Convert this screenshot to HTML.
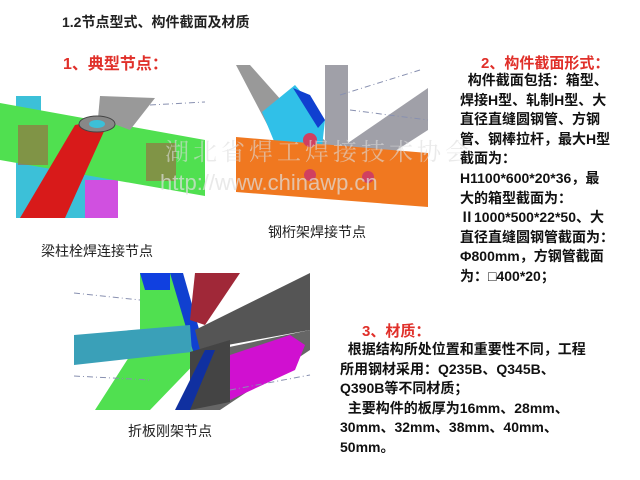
<!DOCTYPE html>
<html><head><meta charset="utf-8"><style>
body{margin:0;width:640px;height:480px;background:#fff;position:relative;overflow:hidden;font-family:"Liberation Sans","Noto Sans CJK SC",sans-serif}
.t{position:absolute;white-space:nowrap}
.b{font-size:14px;font-weight:bold;color:#111;line-height:19.6px}
.r{color:#e0302a;font-weight:bold;font-size:15px}
.cap{font-size:14px;color:#222}
</style></head><body>
<div class="t" style="left:62px;top:12px;font-size:14px;font-weight:bold;color:#222">1.2节点型式、构件截面及材质</div>
<div class="t r" style="left:63px;top:50px;font-size:16px">1、典型节点：</div>
<svg style="position:absolute;left:0;top:0" width="640" height="480">
<rect x="16" y="96" width="25" height="62" fill="#3cc0d8"/>
<rect x="16" y="155" width="100" height="63" fill="#3cc0d8"/>
<rect x="85" y="180" width="33" height="38" fill="#d050e0"/>
<polygon points="0,103 205,140 205,196 0,160" fill="#50e050"/>
<rect x="18" y="125" width="30" height="40" fill="#a06040" opacity=".6"/>
<rect x="146" y="143" width="30" height="38" fill="#a06040" opacity=".6"/>
<polygon points="75,125 110,118 65,218 20,218" fill="#d81a1a"/>
<polygon points="100,96 155,98 130,130 98,118" fill="#999"/>
<ellipse cx="97" cy="124" rx="18" ry="8" fill="#888" stroke="#444"/>
<ellipse cx="97" cy="124" rx="8" ry="4" fill="#3cc0d8"/>
<polygon points="236,65 250,65 290,110 330,145 315,180 290,175 270,130" fill="#999"/>
<polygon points="262,112 295,85 325,120 320,165 290,180" fill="#30c0e8"/>
<polygon points="293,88 310,95 325,120 318,128" fill="#1040d0"/>
<rect x="325" y="65" width="23" height="120" fill="#a0a0a8"/>
<polygon points="345,145 428,88 428,130 350,180" fill="#a0a0a8"/>
<polygon points="236,137 428,153 428,207 236,192" fill="#f07820"/>
<circle cx="310" cy="140" r="7" fill="#d04060"/><circle cx="310" cy="175" r="6" fill="#d04060"/><circle cx="368" cy="177" r="6" fill="#d04060"/>
<polygon points="140,273 180,273 205,353 150,410 95,410 140,340" fill="#50e050"/>
<polygon points="140,273 170,273 170,290 145,290" fill="#1040e0"/>
<polygon points="170,273 183,273 205,350 195,358" fill="#1040d0"/>
<polygon points="74,335 190,325 192,352 74,365" fill="#3aa0b8"/>
<polygon points="195,273 240,273 205,325 190,320" fill="#a02838"/>
<polygon points="195,330 310,273 310,330 200,350" fill="#555"/>
<polygon points="215,350 310,330 310,350 220,410 185,410" fill="#666"/>
<polygon points="190,352 230,340 230,402 190,410" fill="#444"/>
<polygon points="230,355 290,335 305,345 295,370 230,400" fill="#d010d0"/>
<polygon points="175,410 205,350 215,350 190,410" fill="#1030a0"/>
<g stroke="#8890b0" stroke-dasharray="6 3 1 3" fill="none" stroke-width="1">
<line x1="74" y1="293" x2="140" y2="300"/><line x1="74" y1="376" x2="150" y2="380"/><line x1="230" y1="390" x2="310" y2="375"/>
<line x1="150" y1="105" x2="205" y2="102"/><line x1="340" y1="95" x2="420" y2="70"/><line x1="350" y1="110" x2="428" y2="120"/>
</g>
<text x="165" y="160" font-size="24" fill="#ddd" opacity=".6" font-family="Liberation Serif,Noto Serif CJK SC,serif" letter-spacing="4">湖北省焊工焊接技术协会</text>
<text x="160" y="190" font-size="22" fill="#e0e0e0" opacity=".7" font-family="Liberation Sans,sans-serif">http://www.chinawp.cn</text>
</svg>
<div class="t cap" style="left:41px;top:241px">梁柱栓焊连接节点</div>
<div class="t cap" style="left:268px;top:222px">钢桁架焊接节点</div>
<div class="t cap" style="left:128px;top:421px">折板刚架节点</div>
<div class="t r" style="left:481px;top:52px">2、构件截面形式：</div>
<div class="t b" style="left:460px;top:71px">&nbsp;&nbsp;构件截面包括：箱型、<br>焊接H型、轧制H型、大<br>直径直缝圆钢管、方钢<br>管、钢棒拉杆，最大H型<br>截面为：<br>H1100*600*20*36，最<br>大的箱型截面为：<br>Ⅱ1000*500*22*50、大<br>直径直缝圆钢管截面为：<br>Φ800mm，方钢管截面<br>为：□400*20；</div>
<div class="t r" style="left:362px;top:320px">3、材质：</div>
<div class="t b" style="left:340px;top:340px">&nbsp;&nbsp;根据结构所处位置和重要性不同，工程<br>所用钢材采用：Q235B、Q345B、<br>Q390B等不同材质；<br>&nbsp;&nbsp;主要构件的板厚为16mm、28mm、<br>30mm、32mm、38mm、40mm、<br>50mm。</div>
</body></html>
